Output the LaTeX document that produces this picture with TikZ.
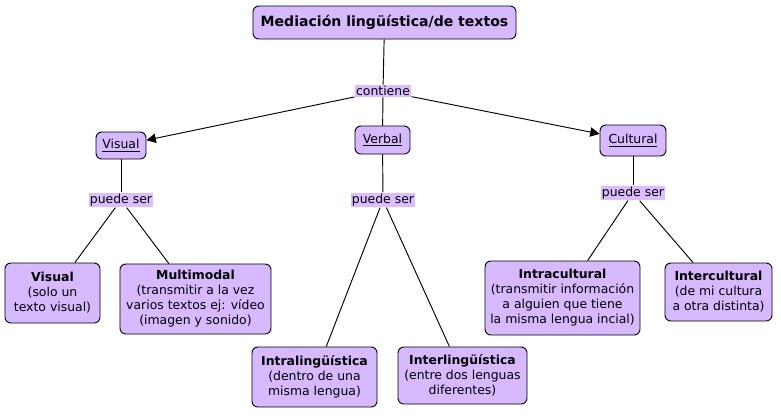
\documentclass[tikz,border=0pt]{standalone}
\usepackage{fontspec}
\setmainfont{DejaVu Sans}
\usetikzlibrary{arrows.meta}
\definecolor{conceptFill}{RGB}{215,185,255}
\definecolor{linkFill}{RGB}{220,190,255}

\begin{document}
\begin{tikzpicture}[x=0.03cm,y=-0.03cm,font=\fontsize{10.6}{12.8}\selectfont,line width=0.8pt,
  concept/.style={draw=black,fill=conceptFill,rounded corners=5pt,align=center,inner sep=0pt},
  link/.style={fill=linkFill,inner sep=1pt},
  arr/.style={-{Triangle[length=8pt,width=8pt]}}]
  % canvas
  \fill[white] (0,0) rectangle (781,417);
  \useasboundingbox (0,0) rectangle (781,417);
  % top concept
  \node[concept,font=\fontsize{12}{14}\selectfont\bfseries,minimum width=7.89cm,minimum height=0.99cm] (med) at (384.5,22.5) {Mediación lingüística/de textos};
  \node[link] (cont) at (383,91) {contiene};
  % second row
  \node[concept,minimum width=1.5cm,minimum height=0.81cm] (vis) at (121,145.5) {\underline{Visual}};
  \node[concept,minimum width=1.65cm,minimum height=0.84cm] (verb) at (382.5,140) {\underline{Verbal}};
  \node[concept,minimum width=1.98cm,minimum height=0.93cm] (cult) at (633,140.5) {\underline{Cultural}};
  % linking phrases
  \node[link] (ps1) at (121,200) {puede ser};
  \node[link] (ps2) at (383,200) {puede ser};
  \node[link] (ps3) at (633,193) {puede ser};
  % leaves
  \node[concept,minimum width=2.85cm,minimum height=1.8cm] (visL) at (52.5,293) {\textbf{Visual}\\(solo un\\texto visual)};
  \node[concept,minimum width=4.53cm,minimum height=2.1cm] (multi) at (195.5,299) {\textbf{Multimodal}\\(transmitir a la vez\\varios textos ej: vídeo\\(imagen y sonido)};
  \node[concept,minimum width=3.75cm,minimum height=1.8cm] (intraL) at (314.5,377) {\textbf{Intralingüística}\\(dentro de una\\misma lengua)};
  \node[concept,minimum width=3.87cm,minimum height=1.71cm] (interL) at (462.5,375.5) {\textbf{Interlingüística}\\(entre dos lenguas\\diferentes)};
  \node[concept,minimum width=4.65cm,minimum height=2.22cm] (intraC) at (562.5,298) {\textbf{Intracultural}\\(transmitir información\\a alguien que tiene\\la misma lengua incial)};
  \node[concept,minimum width=3.21cm,minimum height=1.74cm] (interC) at (718.5,292) {\textbf{Intercultural}\\(de mi cultura\\a otra distinta)};
  % connectors
  \draw (med) -- (cont);
  \draw[arr] (cont) -- (vis);
  \draw (cont) -- (verb);
  \draw[arr] (cont) -- (cult);
  \draw (vis) -- (ps1);
  \draw (verb) -- (ps2);
  \draw (cult) -- (ps3);
  \draw (ps1) -- (visL);
  \draw (ps1) -- (multi);
  \draw (ps2) -- (intraL);
  \draw (ps2) -- (interL);
  \draw (ps3) -- (intraC);
  \draw (ps3) -- (interC);
\end{tikzpicture}
\end{document}
